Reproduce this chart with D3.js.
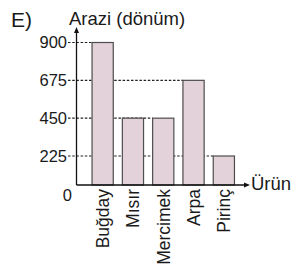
<!DOCTYPE html>
<html>

<head>
    <title>Arazi (dönüm)</title>
    <meta charset="utf-8">
    <script src="https://cdnjs.cloudflare.com/ajax/libs/d3/7.8.5/d3.min.js"></script>
    <style>
        body { margin: 0; background: #fff; }
        text { font-family: "Liberation Sans", Arial, sans-serif; fill: #1a1a1a; }
    </style>
</head>

<body>
    <svg id="chart" width="291" height="270"></svg>
    <script>
        var urunler = ["Buğday", "Mısır", "Mercimek", "Arpa", "Pirinç"];
        var araziler = [900, 450, 450, 675, 225];
        var yTicks = [225, 450, 675, 900];

        var svg = d3.select("#chart");

        // the picture is not quite linear near zero, so a piecewise scale
        var y = d3.scaleLinear()
            .domain([0, 225, 900])
            .range([185, 156, 42.5]);

        var x = d3.scaleBand()
            .domain(urunler)
            .range([87.5, 239])
            .paddingInner(0.3)
            .paddingOuter(0.15);

        var x0 = 76.5;

        // dashed guide lines, up to the last bar with that value
        svg.selectAll("line.guide").data(yTicks)
            .enter()
            .append("line")
            .attr("class", "guide")
            .attr("x1", 68)
            .attr("x2", function(t) {
                var last = urunler[araziler.lastIndexOf(t)];
                return x(last);
            })
            .attr("y1", function(t) { return y(t); })
            .attr("y2", function(t) { return y(t); })
            .style("stroke", "#222")
            .style("stroke-width", 1.1)
            .style("stroke-dasharray", "2.5,1.7");

        svg.selectAll("rect.bar").data(araziler)
            .enter()
            .append("rect")
            .attr("class", "bar")
            .attr("x", function(d, i) { return x(urunler[i]); })
            .attr("y", function(d) { return y(d); })
            .attr("width", x.bandwidth())
            .attr("height", function(d) { return y(0) - y(d); })
            .style("fill", "#e3d2da")
            .style("stroke", "#4d4d4d")
            .style("stroke-width", 1.2);

        // axes with arrow heads
        svg.append("line")
            .attr("x1", x0).attr("x2", x0)
            .attr("y1", y(0)).attr("y2", 31)
            .style("stroke", "#111").style("stroke-width", 1.3);
        svg.append("path")
            .attr("d", "M" + x0 + ",27 L" + (x0 - 2.5) + ",33 L" + (x0 + 2.5) + ",33 Z")
            .style("fill", "#111");

        svg.append("line")
            .attr("x1", x0).attr("x2", 246)
            .attr("y1", y(0)).attr("y2", y(0))
            .style("stroke", "#111").style("stroke-width", 1.3);
        svg.append("path")
            .attr("d", "M250," + y(0) + " L244," + (y(0) - 2.5) + " L244," + (y(0) + 2.5) + " Z")
            .style("fill", "#111");

        svg.selectAll("text.ytick").data(yTicks)
            .enter()
            .append("text")
            .attr("class", "ytick")
            .attr("x", 67)
            .attr("y", function(t) { return y(t); })
            .attr("dy", "0.36em")
            .attr("text-anchor", "end")
            .style("font-size", "16.5px")
            .text(function(t) { return t; });

        svg.append("text")
            .attr("x", 72).attr("y", 195)
            .attr("dy", "0.36em")
            .attr("text-anchor", "end")
            .style("font-size", "16.5px")
            .text("0");

        svg.selectAll("text.xlab").data(urunler)
            .enter()
            .append("text")
            .attr("class", "xlab")
            .attr("transform", function(d) {
                return "translate(" + (x(d) + x.bandwidth() / 2) + ",189) rotate(-90)";
            })
            .attr("dy", "0.36em")
            .attr("text-anchor", "end")
            .style("font-size", "17.5px")
            .text(function(d) { return d; });

        svg.append("text")
            .attr("x", 69).attr("y", 25)
            .style("font-size", "18.5px")
            .text("Arazi (dönüm)");

        svg.append("text")
            .attr("x", 251).attr("y", 190)
            .style("font-size", "18.5px")
            .text("Ürün");

        svg.append("text")
            .attr("x", 11).attr("y", 26.5)
            .style("font-size", "21px")
            .text("E)");
    </script>
</body>

</html>
